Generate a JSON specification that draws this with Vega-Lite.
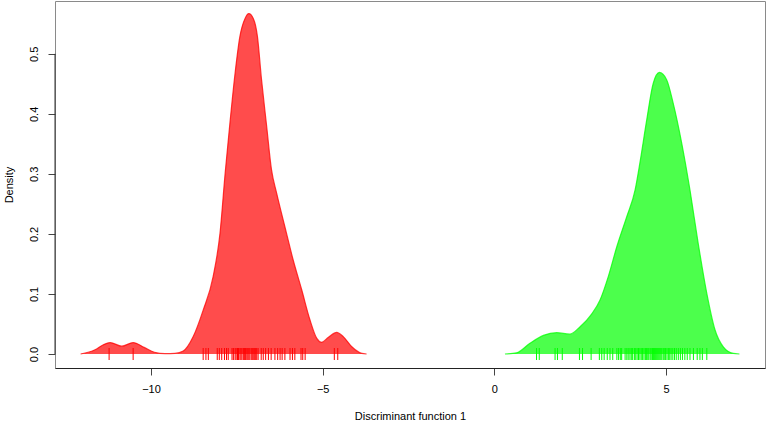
{
  "$schema": "https://vega.github.io/schema/vega-lite/v6.json",
  "width": 710,
  "height": 367,
  "autosize": {"type": "none"},
  "padding": {"left": 55, "top": 1, "right": 2, "bottom": 55},
  "background": "white",
  "config": {
    "view": {"stroke": "#8a8a8a", "strokeWidth": 1},
    "font": "Liberation Sans",
    "axis": {"labelFont": "Liberation Sans", "titleFont": "Liberation Sans", "labelFontSize": 11, "titleFontSize": 11, "titleFontWeight": "normal", "labelColor": "#000", "titleColor": "#000", "tickColor": "#444", "domainColor": "#333", "grid": false, "tickSize": 7}
  },
  "datasets": {
    "curves": [
      {"grp": "1", "x": -12.05, "y": 0},
      {"grp": "1", "x": -11.63, "y": 0.007},
      {"grp": "1", "x": -11.4, "y": 0.015},
      {"grp": "1", "x": -11.19, "y": 0.019},
      {"grp": "1", "x": -10.85, "y": 0.013},
      {"grp": "1", "x": -10.52, "y": 0.019},
      {"grp": "1", "x": -10.2, "y": 0.011},
      {"grp": "1", "x": -9.9, "y": 0.003},
      {"grp": "1", "x": -9.59, "y": 0.0005},
      {"grp": "1", "x": -9.3, "y": 0.001},
      {"grp": "1", "x": -9.06, "y": 0.005},
      {"grp": "1", "x": -8.77, "y": 0.029},
      {"grp": "1", "x": -8.48, "y": 0.073},
      {"grp": "1", "x": -8.19, "y": 0.129},
      {"grp": "1", "x": -7.99, "y": 0.201},
      {"grp": "1", "x": -7.84, "y": 0.301},
      {"grp": "1", "x": -7.70, "y": 0.385},
      {"grp": "1", "x": -7.55, "y": 0.468},
      {"grp": "1", "x": -7.41, "y": 0.529},
      {"grp": "1", "x": -7.26, "y": 0.559},
      {"grp": "1", "x": -7.15, "y": 0.567},
      {"grp": "1", "x": -7.02, "y": 0.559},
      {"grp": "1", "x": -6.90, "y": 0.529},
      {"grp": "1", "x": -6.78, "y": 0.457},
      {"grp": "1", "x": -6.63, "y": 0.379},
      {"grp": "1", "x": -6.49, "y": 0.307},
      {"grp": "1", "x": -6.34, "y": 0.268},
      {"grp": "1", "x": -6.10, "y": 0.212},
      {"grp": "1", "x": -5.86, "y": 0.157},
      {"grp": "1", "x": -5.61, "y": 0.107},
      {"grp": "1", "x": -5.37, "y": 0.057},
      {"grp": "1", "x": -5.17, "y": 0.026},
      {"grp": "1", "x": -5.03, "y": 0.0195},
      {"grp": "1", "x": -4.83, "y": 0.028},
      {"grp": "1", "x": -4.59, "y": 0.036},
      {"grp": "1", "x": -4.40, "y": 0.029},
      {"grp": "1", "x": -4.15, "y": 0.012},
      {"grp": "1", "x": -3.86, "y": 0.001},
      {"grp": "1", "x": -3.72, "y": 0},
      {"grp": "2", "x": 0.31, "y": 0},
      {"grp": "2", "x": 0.65, "y": 0.002},
      {"grp": "2", "x": 1.04, "y": 0.018},
      {"grp": "2", "x": 1.43, "y": 0.031},
      {"grp": "2", "x": 1.82, "y": 0.0355},
      {"grp": "2", "x": 2.20, "y": 0.033},
      {"grp": "2", "x": 2.50, "y": 0.0455},
      {"grp": "2", "x": 2.84, "y": 0.067},
      {"grp": "2", "x": 3.08, "y": 0.090},
      {"grp": "2", "x": 3.32, "y": 0.129},
      {"grp": "2", "x": 3.57, "y": 0.179},
      {"grp": "2", "x": 3.86, "y": 0.229},
      {"grp": "2", "x": 4.10, "y": 0.273},
      {"grp": "2", "x": 4.24, "y": 0.318},
      {"grp": "2", "x": 4.44, "y": 0.39},
      {"grp": "2", "x": 4.63, "y": 0.451},
      {"grp": "2", "x": 4.81, "y": 0.469},
      {"grp": "2", "x": 5.02, "y": 0.457},
      {"grp": "2", "x": 5.21, "y": 0.418},
      {"grp": "2", "x": 5.46, "y": 0.351},
      {"grp": "2", "x": 5.70, "y": 0.273},
      {"grp": "2", "x": 5.94, "y": 0.184},
      {"grp": "2", "x": 6.19, "y": 0.101},
      {"grp": "2", "x": 6.43, "y": 0.040},
      {"grp": "2", "x": 6.67, "y": 0.012},
      {"grp": "2", "x": 6.96, "y": 0.001},
      {"grp": "2", "x": 7.14, "y": 0}
    ],
    "rug": [
      {"grp": "1", "x": -11.22}, {"grp": "1", "x": -10.52},
      {"grp": "1", "x": -8.48}, {"grp": "1", "x": -8.40}, {"grp": "1", "x": -8.33},
      {"grp": "1", "x": -8.07}, {"grp": "1", "x": -8.01}, {"grp": "1", "x": -7.94},
      {"grp": "1", "x": -7.86}, {"grp": "1", "x": -7.80}, {"grp": "1", "x": -7.75},
      {"grp": "1", "x": -7.64}, {"grp": "1", "x": -7.60}, {"grp": "1", "x": -7.55},
      {"grp": "1", "x": -7.52}, {"grp": "1", "x": -7.48}, {"grp": "1", "x": -7.45},
      {"grp": "1", "x": -7.41}, {"grp": "1", "x": -7.38}, {"grp": "1", "x": -7.35},
      {"grp": "1", "x": -7.31}, {"grp": "1", "x": -7.28}, {"grp": "1", "x": -7.25},
      {"grp": "1", "x": -7.21}, {"grp": "1", "x": -7.18}, {"grp": "1", "x": -7.15},
      {"grp": "1", "x": -7.12}, {"grp": "1", "x": -7.08}, {"grp": "1", "x": -7.05},
      {"grp": "1", "x": -7.02}, {"grp": "1", "x": -6.98}, {"grp": "1", "x": -6.95},
      {"grp": "1", "x": -6.92}, {"grp": "1", "x": -6.88}, {"grp": "1", "x": -6.79},
      {"grp": "1", "x": -6.73}, {"grp": "1", "x": -6.66}, {"grp": "1", "x": -6.58},
      {"grp": "1", "x": -6.50}, {"grp": "1", "x": -6.39}, {"grp": "1", "x": -6.31},
      {"grp": "1", "x": -6.24}, {"grp": "1", "x": -6.18}, {"grp": "1", "x": -6.10},
      {"grp": "1", "x": -5.95}, {"grp": "1", "x": -5.88}, {"grp": "1", "x": -5.81},
      {"grp": "1", "x": -5.63}, {"grp": "1", "x": -5.58}, {"grp": "1", "x": -5.51},
      {"grp": "1", "x": -4.66}, {"grp": "1", "x": -4.56},
      {"grp": "2", "x": 1.23}, {"grp": "2", "x": 1.31}, {"grp": "2", "x": 1.77},
      {"grp": "2", "x": 1.84}, {"grp": "2", "x": 1.98}, {"grp": "2", "x": 2.48},
      {"grp": "2", "x": 2.57}, {"grp": "2", "x": 2.82}, {"grp": "2", "x": 3.06},
      {"grp": "2", "x": 3.13}, {"grp": "2", "x": 3.20}, {"grp": "2", "x": 3.29},
      {"grp": "2", "x": 3.37}, {"grp": "2", "x": 3.45}, {"grp": "2", "x": 3.57},
      {"grp": "2", "x": 3.62}, {"grp": "2", "x": 3.67}, {"grp": "2", "x": 3.71},
      {"grp": "2", "x": 3.81}, {"grp": "2", "x": 3.86}, {"grp": "2", "x": 3.90},
      {"grp": "2", "x": 3.95}, {"grp": "2", "x": 3.99}, {"grp": "2", "x": 4.03},
      {"grp": "2", "x": 4.08}, {"grp": "2", "x": 4.12}, {"grp": "2", "x": 4.16},
      {"grp": "2", "x": 4.20}, {"grp": "2", "x": 4.24}, {"grp": "2", "x": 4.28},
      {"grp": "2", "x": 4.32}, {"grp": "2", "x": 4.36}, {"grp": "2", "x": 4.40},
      {"grp": "2", "x": 4.43}, {"grp": "2", "x": 4.47}, {"grp": "2", "x": 4.50},
      {"grp": "2", "x": 4.54}, {"grp": "2", "x": 4.57}, {"grp": "2", "x": 4.61},
      {"grp": "2", "x": 4.64}, {"grp": "2", "x": 4.67}, {"grp": "2", "x": 4.70},
      {"grp": "2", "x": 4.73}, {"grp": "2", "x": 4.76}, {"grp": "2", "x": 4.79},
      {"grp": "2", "x": 4.82}, {"grp": "2", "x": 4.85}, {"grp": "2", "x": 4.88},
      {"grp": "2", "x": 4.92}, {"grp": "2", "x": 4.95}, {"grp": "2", "x": 4.99},
      {"grp": "2", "x": 5.03}, {"grp": "2", "x": 5.07}, {"grp": "2", "x": 5.11},
      {"grp": "2", "x": 5.15}, {"grp": "2", "x": 5.20}, {"grp": "2", "x": 5.25},
      {"grp": "2", "x": 5.30}, {"grp": "2", "x": 5.36}, {"grp": "2", "x": 5.42},
      {"grp": "2", "x": 5.48}, {"grp": "2", "x": 5.55}, {"grp": "2", "x": 5.62},
      {"grp": "2", "x": 5.70}, {"grp": "2", "x": 5.80}, {"grp": "2", "x": 5.91},
      {"grp": "2", "x": 5.99}, {"grp": "2", "x": 6.06}, {"grp": "2", "x": 6.19}
    ],
    "yaxis": [{"x": -12.796, "y": 0, "y2": 0.5}]
  },
  "layer": [
    {
      "data": {"name": "curves"},
      "mark": {"type": "area", "interpolate": "monotone", "fillOpacity": 0.7},
      "encoding": {
        "x": {"field": "x", "type": "quantitative", "scale": {"domain": [-12.796, 7.885], "nice": false, "zero": false},
              "axis": {"values": [-10, -5, 0, 5], "title": "Discriminant function 1", "titlePadding": 16, "labelPadding": 8, "domain": true, "domainColor": "#222", "ticks": true}},
        "y": {"field": "y", "type": "quantitative", "scale": {"domain": [-0.0233, 0.588], "nice": false, "zero": false},
              "axis": {"values": [0, 0.1, 0.2, 0.3, 0.4, 0.5], "format": ".1f", "title": "Density", "labelAngle": -90, "labelAlign": "center", "labelBaseline": "bottom", "labelPadding": 9, "titlePadding": 14, "domain": false}},
        "color": {"field": "grp", "type": "nominal", "scale": {"domain": ["1", "2"], "range": ["#ff0000", "#00ff00"]}, "legend": null}
      }
    },
    {
      "data": {"name": "curves"},
      "mark": {"type": "line", "interpolate": "monotone", "strokeWidth": 1.2, "opacity": 0.75},
      "encoding": {
        "x": {"field": "x", "type": "quantitative"},
        "y": {"field": "y", "type": "quantitative"},
        "color": {"field": "grp", "type": "nominal", "legend": null}
      }
    },
    {
      "data": {"name": "rug"},
      "mark": {"type": "tick", "orient": "vertical", "size": 12, "thickness": 1, "opacity": 1},
      "encoding": {
        "x": {"field": "x", "type": "quantitative"},
        "y": {"datum": 0, "type": "quantitative"},
        "color": {"field": "grp", "type": "nominal", "legend": null}
      }
    },
    {
      "data": {"name": "yaxis"},
      "mark": {"type": "rule", "color": "#333", "strokeWidth": 1},
      "encoding": {
        "x": {"field": "x", "type": "quantitative"},
        "y": {"field": "y", "type": "quantitative"},
        "y2": {"field": "y2"}
      }
    }
  ]
}
